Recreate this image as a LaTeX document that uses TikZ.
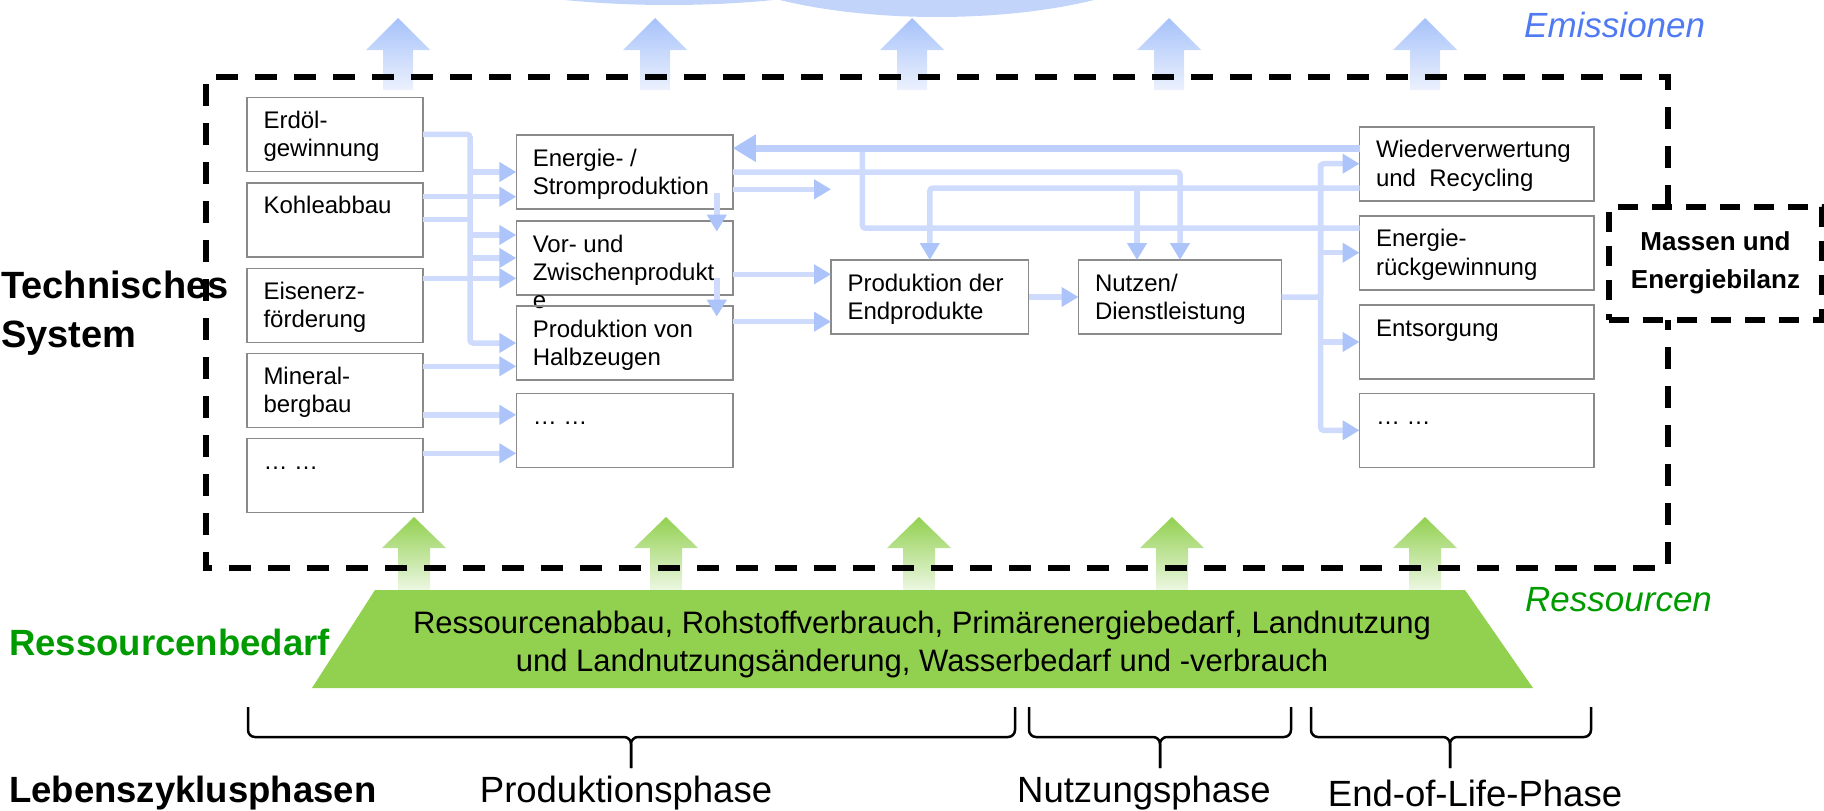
\documentclass[tikz,border=0pt]{standalone}
\usepackage{fontspec}
\setmainfont{Liberation Sans}
\usetikzlibrary{arrows.meta,positioning}

\definecolor{boxgray}{RGB}{138,138,138}
\definecolor{lineblue}{RGB}{206,219,252}
\definecolor{headblue}{RGB}{172,196,250}
\definecolor{backblue}{RGB}{190,207,251}
\definecolor{emtop}{RGB}{166,194,250}
\definecolor{embot}{RGB}{236,241,253}
\definecolor{cloudblue}{RGB}{195,212,251}
\definecolor{resgreen}{RGB}{146,208,80}
\definecolor{resbot}{RGB}{236,247,226}
\definecolor{txtgreen}{RGB}{0,155,0}
\definecolor{txtblue}{RGB}{80,122,242}

\newcommand{\boxfont}{\fontsize{24}{28.4}\selectfont}
\newcommand{\bigfont}{\fontsize{38}{49}\selectfont\bfseries}
\newcommand{\massfont}{\fontsize{26}{38}\selectfont\bfseries}
\newcommand{\resfont}{\fontsize{31}{38}\selectfont}
\newcommand{\phasefont}{\fontsize{36.5}{40}\selectfont}
\newcommand{\boxlines}[2]{\parbox[t][74pt][t]{#1}{\raggedright\rule{0pt}{31pt}#2}}

\begin{document}
\begin{tikzpicture}[x=1pt,y=-1pt,
    procbox/.style={draw=boxgray,line width=1.6pt,inner xsep=16.5pt,inner ysep=0pt,outer sep=0pt,anchor=north west,font=\boxfont},
    conn/.style={draw=lineblue,line width=5.5pt,rounded corners=3pt,-{Triangle[length=17pt,width=19pt,color=headblue]}},
    feed/.style={draw=lineblue,line width=5.5pt,rounded corners=3pt},
    backflow/.style={draw=backblue,line width=7pt,-{Triangle[length=23pt,width=26pt,color=headblue]}},
    sysframe/.style={draw=black,line width=6pt,dash pattern=on 22pt off 17pt},
    phaselabel/.style={font=\phasefont,inner sep=0pt},
    phasebrace/.style={draw=black,line width=2.5pt,rounded corners=7pt}]
    \useasboundingbox (0,0) rectangle (1824,811);

    % emissions
    \fill[cloudblue] (669,-75) ellipse [x radius=300pt,y radius=80pt];
    \fill[cloudblue] (937,-63) ellipse [x radius=255pt,y radius=80pt];
    \foreach \x in {398,655,912,1169,1425}
        \shade[top color=emtop,bottom color=embot] (\x,18) -- (\x+32,50) -- (\x+15,50) -- (\x+15,90)
            -- (\x-15,90) -- (\x-15,50) -- (\x-32,50) -- cycle;
    \node[font=\fontsize{35}{40}\selectfont\itshape,text=txtblue,anchor=west,inner sep=0pt] at (1524,25) (emis) {Emissionen};

    % resources
    \foreach \x in {414,666,919,1172,1425}
        \shade[top color=resgreen,bottom color=resbot] (\x,517) -- (\x+32,548) -- (\x+16,548) -- (\x+16,590)
            -- (\x-16,590) -- (\x-16,548) -- (\x-32,548) -- cycle;
    \fill[resgreen] (375,590) -- (1465,590) -- (1533,688) -- (312,688) -- cycle;
    \node[font=\resfont,align=center] at (922,644) (resneed) {Ressourcenabbau, Rohstoffverbrauch, Primärenergiebedarf, Landnutzung\\und Landnutzungsänderung, Wasserbedarf und -verbrauch};
    \node[font=\fontsize{35}{40}\selectfont\itshape,text=txtgreen,anchor=west,inner sep=0pt] at (1525,600) (res) {Ressourcen};
    \node[font=\fontsize{36.5}{40}\selectfont\bfseries,text=txtgreen,anchor=west,inner sep=0pt] at (9,642) (resbed) {Ressourcenbedarf};

    % boxes
    \node[procbox] at (247,97.3) (erdoel) {\boxlines{143pt}{Erdöl-\\gewinnung}};
    \node[procbox] at (247,182.7) (kohle) {\boxlines{143pt}{Kohleabbau}};
    \node[procbox] at (247,268.3) (eisen) {\boxlines{143pt}{Eisenerz-\\förderung}};
    \node[procbox] at (247,353.3) (mineral) {\boxlines{143pt}{Mineral-\\bergbau}};
    \node[procbox] at (247,438.3) (dotsA) {\boxlines{143pt}{… …}};

    \node[procbox] at (516.3,135) (energie) {\boxlines{183.5pt}{Energie- /\\Stromproduktion}};
    \node[procbox] at (516.3,221) (vor) {\boxlines{183.5pt}{Vor- und\\Zwischenprodukt\\e}};
    \node[procbox] at (516.3,306) (halb) {\boxlines{183.5pt}{Produktion von\\Halbzeugen}};
    \node[procbox] at (516.3,393.3) (dotsB) {\boxlines{183.5pt}{… …}};

    \node[procbox] at (831,260) (prod) {\boxlines{164.6pt}{Produktion der\\Endprodukte}};
    \node[procbox] at (1078.5,260) (nutzen) {\boxlines{170pt}{Nutzen/\\Dienstleistung}};

    \node[procbox] at (1359.5,126.7) (wieder) {\boxlines{201.5pt}{Wiederverwertung\\und~ Recycling}};
    \node[procbox] at (1359.5,215.7) (energier) {\boxlines{201.5pt}{Energie-\\rückgewinnung}};
    \node[procbox] at (1359.5,305) (entsorg) {\boxlines{201.5pt}{Entsorgung}};
    \node[procbox] at (1359.5,393.3) (dotsC) {\boxlines{201.5pt}{… …}};

    \node[draw=black,line width=6pt,dash pattern=on 20pt off 14pt,minimum width=213pt,minimum height=113pt,
        align=center,font=\massfont] at (1715.5,263.3) (massen) {Massen und\\Energiebilanz};

    % ports
    \coordinate (busA) at (470,0);
    \coordinate (busB) at (1320.7,0);
    \coordinate (retjoin) at (862.4,0);
    \coordinate (k1) at ([yshift=23pt]kohle.east);
    \coordinate (e1) at ([yshift=27pt]eisen.east);
    \coordinate (m1) at ([yshift=24pt]mineral.east);
    \coordinate (m2) at ([yshift=-24.5pt]mineral.east);
    \coordinate (d1) at ([yshift=22pt]dotsA.east);
    \coordinate (v1) at ([yshift=23pt]vor.west);
    \coordinate (v2) at ([yshift=-16.3pt]vor.east);
    \coordinate (h2) at ([yshift=21.3pt]halb.east);
    \coordinate (en2) at ([yshift=-17.3pt]energie.east);
    \coordinate (w1) at ([yshift=15.5pt]wieder.west);
    \coordinate (w2) at ([yshift=-24.5pt]wieder.west);
    \coordinate (r1) at ([yshift=24.5pt]energier.west);
    \coordinate (nb) at ([xshift=-43pt]nutzen.north);
    \coordinate (s1) at ([xshift=-16pt,yshift=16pt]energie.south east);
    \coordinate (t1) at ([xshift=-16pt,yshift=-10.7pt]vor.north east);
    \coordinate (s2) at ([xshift=-16pt,yshift=17pt]vor.south east);
    \coordinate (t2) at ([xshift=-16pt,yshift=-10.7pt]halb.north east);

    % raw material flows
    \draw[conn] (erdoel.east) -| (busA |- halb.west) -- (halb.west);
    \draw[feed] (kohle.east) -- (kohle.east -| busA);
    \draw[conn] (busA |- energie.west) -- (energie.west);
    \draw[conn] (k1) -- (k1 -| energie.west);
    \draw[conn] (busA |- v1) -- (v1);
    \draw[conn] (busA |- vor.west) -- (vor.west);
    \draw[conn] (e1) -- (e1 -| vor.west);
    \draw[conn] (m1) -- (m1 -| halb.west);
    \draw[conn] (m2) -- (m2 -| dotsB.west);
    \draw[conn] (d1) -- (d1 -| dotsB.west);

    % production
    \draw[conn] (s1) -- (t1);
    \draw[conn] (s2) -- (t2);
    \draw[conn] (v2) -- (v2 -| prod.west);
    \draw[conn] (h2) -- (h2 -| prod.west);
    \draw[conn] (en2) -- (en2 -| prod.west);
    \draw[conn] (prod.east) -- (nutzen.west);
    \draw[conn] (energie.east) -| (nutzen.north);

    % recycling and recovery
    \draw[feed] (r1) -| (retjoin |- w1);
    \draw[backflow] (w1) -- (w1 -| energie.east);
    \draw[conn] (w2) -| (prod.north);
    \draw[conn] (w2 -| nb) -- (nb);

    % end of life
    \draw[conn] (nutzen.east) -| (busB |- wieder.west) -- (wieder.west);
    \draw[conn] (busB |- wieder.west) |- (dotsC.west);
    \draw[conn] (busB |- energier.west) -- (energier.west);
    \draw[conn] (busB |- entsorg.west) -- (entsorg.west);

    % system boundary
    \draw[sysframe] (1668,207) -- (1668,77) -- (206,77) -- (206,568) -- (1668,568) -- (1668,320);
    \node[font=\bigfont,align=left,anchor=west,inner sep=0pt] at (1,313) (tech) {Technisches\\System};

    % life cycle phases
    \draw[phasebrace] (248,707) -- (248,737) -- (631,737) -- (631,768);
    \draw[phasebrace] (1015,707) -- (1015,737) -- (631,737) -- (631,768);
    \draw[phasebrace] (1029,707) -- (1029,737) -- (1160,737) -- (1160,768);
    \draw[phasebrace] (1291,707) -- (1291,737) -- (1160,737) -- (1160,768);
    \draw[phasebrace] (1311,707) -- (1311,737) -- (1450,737) -- (1450,768);
    \draw[phasebrace] (1591,707) -- (1591,737) -- (1450,737) -- (1450,768);
    \node[phaselabel,font=\phasefont\bfseries,anchor=west] at (9,793) (lcp) {Lebenszyklusphasen};
    \node[phaselabel] at (626,793) (pp) {Produktionsphase};
    \node[phaselabel] at (1144,793) (np) {Nutzungsphase};
    \node[phaselabel] at (1475,793) (ep) {End-of-Life-Phase};
\end{tikzpicture}
\end{document}
